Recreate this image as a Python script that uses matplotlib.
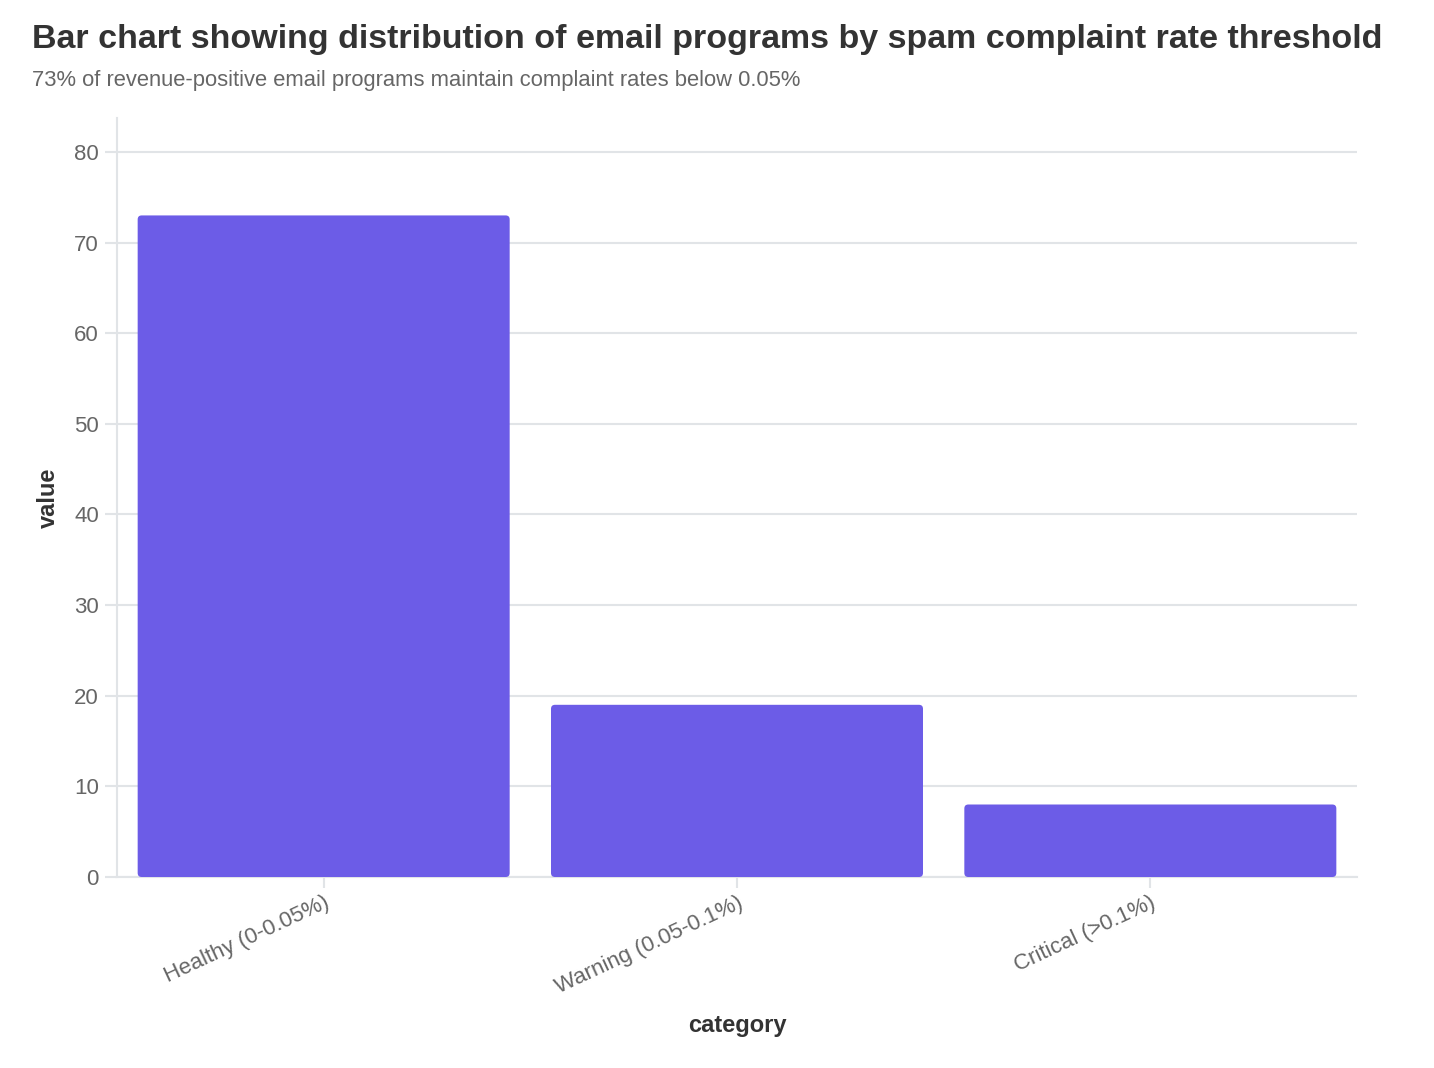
import matplotlib
matplotlib.use('Agg')
from matplotlib import pyplot as plt
from matplotlib.patches import FancyBboxPatch

categories = ['Healthy (0-0.05%)', 'Warning (0.05-0.1%)', 'Critical (>0.1%)']
values = [73, 19, 8]
yticks = [0, 10, 20, 30, 40, 50, 60, 70, 80]

title = 'Bar chart showing distribution of email programs by spam complaint rate threshold'
subtitle = '73% of revenue-positive email programs maintain complaint rates below 0.05%'

barColor = '#6c5ce7'
gridColor = '#e1e4e7'

plt.rcParams['font.family'] = ['Liberation Sans', 'DejaVu Sans']

fig = plt.figure(figsize=(14.34, 10.68), dpi=100)
ax = fig.add_axes([117 / 1434, 1 - 877 / 1068, 1240 / 1434, 759 / 1068])

ax.set_xlim(-0.5, 2.5)
ax.set_ylim(0, 83.75)

# px per data unit, used so the corner rounding looks the same in x and y
pxX = 1240 / 3
pxY = 759 / 83.75
for i, v in enumerate(values):
    box = FancyBboxPatch((i - 0.45, 0), 0.9, v,
                         boxstyle='round,pad=0,rounding_size=%f' % (4 / pxX),
                         mutation_aspect=pxX / pxY,
                         facecolor=barColor, edgecolor='none', zorder=3)
    ax.add_patch(box)

ax.set_yticks(yticks)
ax.set_xticks(range(len(categories)))
ax.set_xticklabels(categories, rotation=25, ha='right', va='top', rotation_mode='anchor')
ax.grid(axis='y', color=gridColor, linewidth=1.5, zorder=0)
ax.grid(axis='x', visible=False)

for s in ['top', 'right']:
    ax.spines[s].set_visible(False)
for s in ['left', 'bottom']:
    ax.spines[s].set_color(gridColor)
    ax.spines[s].set_linewidth(1.5)

ax.tick_params(axis='both', colors=gridColor, labelcolor='#666666', labelsize=16, width=1.5)
ax.tick_params(axis='y', length=9, pad=4)
ax.tick_params(axis='x', length=8, pad=3)

ax.set_ylabel('value', fontsize=17, fontweight='bold', color='#333333', labelpad=10)
ax.set_xlabel('category', fontsize=17, fontweight='bold', color='#333333', labelpad=12)

fig.text(32 / 1434, 1 - 48 / 1068, title, fontsize=24.5, fontweight='bold', color='#333333')
fig.text(32 / 1434, 1 - 86 / 1068, subtitle, fontsize=15.8, color='#666666')

plt.savefig('out.png', dpi=100)
